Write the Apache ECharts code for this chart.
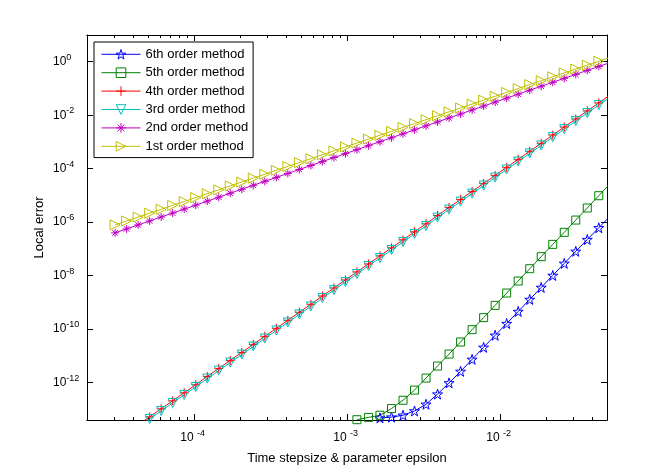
<!DOCTYPE html>
<html>
<head>
<meta charset="utf-8">
<script src="https://cdn.jsdelivr.net/npm/echarts@6/dist/echarts.min.js"></script>
<style>
  html, body { margin: 0; padding: 0; background: #fff; }
  #chart { width: 671px; height: 472px; }
</style>
</head>
<body>
<div id="chart"></div>
<script>
// step sizes h (shared by every series)
const stepSize = [3.052e-5, 3.629e-5, 4.316e-5, 5.133e-5, 6.104e-5, 7.258e-5, 8.632e-5, 1.027e-4,
  1.221e-4, 1.452e-4, 1.726e-4, 2.053e-4, 2.441e-4, 2.903e-4, 3.453e-4, 4.106e-4, 4.883e-4,
  5.807e-4, 6.905e-4, 8.212e-4, 9.766e-4, 1.161e-3, 1.381e-3, 1.642e-3, 1.953e-3, 2.323e-3,
  2.762e-3, 3.285e-3, 3.906e-3, 4.645e-3, 5.524e-3, 6.570e-3, 7.813e-3, 9.291e-3, 1.105e-2,
  1.314e-2, 1.563e-2, 1.858e-2, 2.210e-2, 2.628e-2, 3.125e-2, 3.716e-2, 4.419e-2, 5.256e-2];

// local error per method (null = not plotted)
const err6 = [null, null, null, null, null, null, null, null, null, null, null, null,
  null, null, null, null, null, null, null, null, null, null, null,
  4.79e-14, 5.13e-14, 6.03e-14, 8.71e-14, 1.55e-13, 3.72e-13, 9.77e-13, 2.63e-12, 7.41e-12,
  2.09e-11, 5.89e-11, 1.62e-10, 4.57e-10, 1.29e-9, 3.63e-9, 1.02e-8, 2.88e-8, 8.13e-8,
  2.24e-7, 6.17e-7, 1.74e-6];
const err5 = [null, null, null, null, null, null, null, null, null, null, null, null,
  null, null, null, null, null, null, null, null, null,
  4.1e-14, 5.01e-14, 6.03e-14, 1.07e-13, 2.19e-13, 5.25e-13, 1.48e-12, 4.17e-12, 1.17e-11,
  3.31e-11, 9.55e-11, 2.69e-10, 7.76e-10, 2.24e-9, 6.31e-9, 1.82e-8, 5.13e-8, 1.48e-7,
  4.17e-7, 1.20e-6, 3.39e-6, 9.77e-6, 2.82e-5];
const err4 = [null, null,
  2.63e-14, 5.25e-14, 1.05e-13, 2.09e-13, 4.17e-13, 8.32e-13, 1.70e-12, 3.39e-12, 6.76e-12,
  1.35e-11, 2.69e-11, 5.37e-11, 1.07e-10, 2.14e-10, 4.27e-10, 8.51e-10, 1.74e-9, 3.47e-9,
  6.92e-9, 1.38e-8, 2.75e-8, 5.50e-8, 1.10e-7, 2.19e-7, 4.37e-7, 8.71e-7, 1.78e-6, 3.55e-6,
  7.08e-6, 1.41e-5, 2.82e-5, 5.62e-5, 1.12e-4, 2.24e-4, 4.47e-4, 8.91e-4, 1.82e-3, 3.63e-3,
  7.24e-3, 1.45e-2, 2.88e-2, 5.75e-2];
const err3 = [null, null,
  2.19e-14, 4.37e-14, 8.71e-14, 1.74e-13, 3.47e-13, 6.92e-13, 1.41e-12, 2.82e-12, 5.62e-12,
  1.12e-11, 2.24e-11, 4.47e-11, 8.91e-11, 1.78e-10, 3.55e-10, 7.08e-10, 1.45e-9, 2.88e-9,
  5.75e-9, 1.15e-8, 2.29e-8, 4.57e-8, 9.12e-8, 1.82e-7, 3.63e-7, 7.24e-7, 1.48e-6, 2.95e-6,
  5.89e-6, 1.17e-5, 2.34e-5, 4.68e-5, 9.33e-5, 1.86e-4, 3.72e-4, 7.41e-4, 1.51e-3, 3.02e-3,
  6.03e-3, 1.20e-2, 2.40e-2, 4.79e-2];
const err2 = [3.98e-7, 5.60e-7, 7.87e-7, 1.11e-6, 1.56e-6, 2.19e-6, 3.08e-6, 4.34e-6, 6.11e-6,
  8.59e-6, 1.21e-5, 1.70e-5, 2.39e-5, 3.37e-5, 4.73e-5, 6.65e-5, 9.35e-5, 1.32e-4, 1.85e-4,
  2.61e-4, 3.66e-4, 5.15e-4, 7.26e-4, 1.02e-3, 1.44e-3, 2.02e-3, 2.84e-3, 4.00e-3, 5.62e-3,
  7.91e-3, 1.11e-2, 1.57e-2, 2.20e-2, 3.10e-2, 4.36e-2, 6.12e-2, 8.63e-2, 0.121, 0.171,
  0.240, 0.338, 0.475, 0.668, 0.940];
const err1 = [7.94e-7, 1.11e-6, 1.55e-6, 2.17e-6, 3.04e-6, 4.25e-6, 5.94e-6, 8.32e-6, 1.16e-5,
  1.63e-5, 2.28e-5, 3.18e-5, 4.45e-5, 6.22e-5, 8.71e-5, 1.22e-4, 1.70e-4, 2.38e-4, 3.33e-4,
  4.66e-4, 6.52e-4, 9.12e-4, 1.28e-3, 1.78e-3, 2.49e-3, 3.49e-3, 4.88e-3, 6.82e-3, 9.55e-3,
  1.34e-2, 1.87e-2, 2.61e-2, 3.66e-2, 5.11e-2, 7.14e-2, 0.100, 0.140, 0.195, 0.274, 0.383,
  0.535, 0.748, 1.05, 1.47];

const methodNames = ['6th order method', '5th order method', '4th order method',
  '3rd order method', '2nd order method', '1st order method'];

// ticks
const xMajorTicks = [1e-4, 1e-3, 1e-2];
const xMinorTicks = [3e-5, 4e-5, 5e-5, 6e-5, 7e-5, 8e-5, 9e-5,
  2e-4, 3e-4, 4e-4, 5e-4, 6e-4, 7e-4, 8e-4, 9e-4,
  2e-3, 3e-3, 4e-3, 5e-3, 6e-3, 7e-3, 8e-3, 9e-3,
  2e-2, 3e-2, 4e-2];
const yMajorTicks = [1e-12, 1e-10, 1e-8, 1e-6, 1e-4, 1e-2, 1];

const chart = echarts.init(document.getElementById('chart'));
const FONT = '"Liberation Sans", Arial, Helvetica, sans-serif';

// matlab style markers
const STAR = 'path://M10,0L12.2,6.9L19.5,6.9L13.6,11.2L15.9,18.1L10,13.8L4.1,18.1L6.4,11.2L0.5,6.9L7.8,6.9Z';
const PLUS = 'path://M5,0L5,10M0,5L10,5';
const TRI_DOWN = 'path://M0,0L10,0L5,9Z';
const ASTER = 'path://M5,0L5,10M0,5L10,5M1.5,1.5L8.5,8.5M1.5,8.5L8.5,1.5';
const TRI_RIGHT = 'path://M0,0L9,5L0,10Z';

const errs = [err6, err5, err4, err3, err2, err1];
const colors = ['#0000ff', '#008000', '#ff0000', '#00bfbf', '#bf00bf', '#bfbf00'];
const symbols = [STAR, 'rect', PLUS, TRI_DOWN, ASTER, TRI_RIGHT];
const symbolSizes = [10, 8, 9, 9, 8, 10];

function powLabel(v) {
  const e = Math.round(Math.log10(v));
  return '{b|10}{s|' + e + '}';
}

const axisLine = { show: true, onZero: false, lineStyle: { color: '#000', width: 1 } };

function xAxis(pos, ticks, len, withLabel) {
  return {
    type: 'log', logBase: 10, min: 2e-5, max: 5e-2, position: pos,
    axisLine: axisLine,
    axisTick: { show: true, inside: true, length: len, customValues: ticks, lineStyle: { color: '#000' } },
    axisLabel: withLabel ? {
      show: true, customValues: xMajorTicks, formatter: powLabel, margin: 9, align: 'center',
      rich: {
        b: { fontFamily: FONT, fontSize: 12, color: '#000', width: 14, align: 'right', lineHeight: 18, verticalAlign: 'middle' },
        s: { fontFamily: FONT, fontSize: 9, color: '#000', width: 14, align: 'left', lineHeight: 18, verticalAlign: 'top' }
      }
    } : { show: false },
    splitLine: { show: false }
  };
}

function yAxis(pos, withLabel) {
  return {
    type: 'log', logBase: 10, min: 4e-14, max: 10, position: pos,
    axisLine: axisLine,
    axisTick: { show: true, inside: true, length: 6, customValues: yMajorTicks, lineStyle: { color: '#000' } },
    axisLabel: withLabel ? {
      show: true, customValues: yMajorTicks, formatter: powLabel, margin: 34, align: 'left',
      rich: {
        b: { fontFamily: FONT, fontSize: 12, color: '#000', lineHeight: 18, verticalAlign: 'middle' },
        s: { fontFamily: FONT, fontSize: 9, color: '#000', lineHeight: 18, verticalAlign: 'top' }
      }
    } : { show: false },
    splitLine: { show: false }
  };
}

const xAxes = [
  xAxis('bottom', xMajorTicks, 6, true),
  xAxis('bottom', xMinorTicks, 3, false),
  xAxis('top', xMajorTicks, 6, false),
  xAxis('top', xMinorTicks, 3, false)
];
Object.assign(xAxes[0], {
  name: 'Time stepsize & parameter epsilon', nameLocation: 'middle', nameGap: 32,
  nameTextStyle: { fontFamily: FONT, fontSize: 13, color: '#000' }
});

const yAxes = [yAxis('left', true), yAxis('right', false)];
Object.assign(yAxes[0], {
  name: 'Local error', nameLocation: 'middle', nameGap: 41, nameMoveOverlap: false,
  nameTextStyle: { fontFamily: FONT, fontSize: 13, color: '#000' }
});

const series = methodNames.map((name, i) => ({
  name: name,
  type: 'line',
  xAxisIndex: 0,
  yAxisIndex: 0,
  data: stepSize.map((h, j) => [h, errs[i][j]]).filter(p => p[1] !== null),
  symbol: symbols[i],
  symbolSize: symbolSizes[i],
  showSymbol: true,
  clip: true,
  lineStyle: { color: colors[i], width: 1 },
  itemStyle: { color: 'none', borderColor: colors[i], borderWidth: 1 },
  emphasis: { disabled: true }
}));

chart.setOption({
  animation: false,
  backgroundColor: '#fff',
  grid: { left: 87, right: 64, top: 35, bottom: 52, containLabel: false },
  legend: {
    data: methodNames,
    orient: 'vertical',
    left: 94, top: 42,
    backgroundColor: '#fff',
    borderColor: '#000', borderWidth: 1, borderRadius: 0,
    padding: [5, 5, 4, 7],
    itemWidth: 39, itemHeight: 12, itemGap: 3.8,
    selectedMode: false,
    itemStyle: { color: 'none', borderWidth: 1 },
    lineStyle: { width: 1 },
    textStyle: { fontFamily: FONT, fontSize: 13, color: '#000' }
  },
  xAxis: xAxes,
  yAxis: yAxes,
  series: series
});
</script>
</body>
</html>
